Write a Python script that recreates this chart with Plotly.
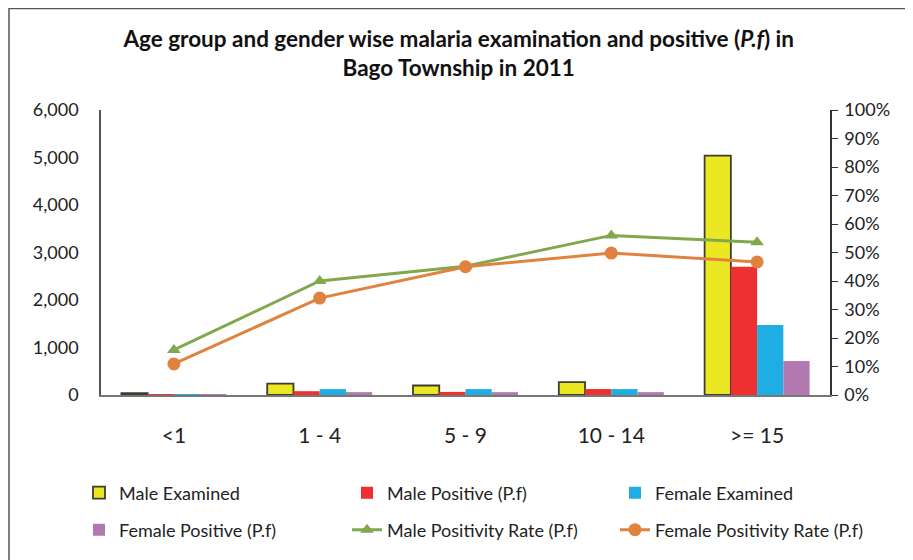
import plotly.graph_objects as go

categories = ["<1", "1 - 4", "5 - 9", "10 - 14", ">= 15"]
male_examined = [40, 240, 200, 270, 5040]
male_positive = [8, 80, 65, 125, 2700]
female_examined = [20, 125, 125, 125, 1475]
female_positive = [5, 60, 60, 60, 715]
male_rate = [15.8, 40.0, 45.2, 56.0, 53.6]
female_rate = [10.9, 34.0, 45.0, 49.8, 46.7]

FONT = "Lato"
# page is drawn with an 8px body margin; figure sized/offset to compensate
W, H = 905, 552
L, R, T, B = 93, 83, 102, 165
PW, PH = W - L - R, H - T - B

def px_x(x):
    return (x - L) / PW

def px_y(y):
    return (H - B - y) / PH

fig = go.Figure()
fig.add_trace(go.Bar(x=categories, y=male_examined, name="Male Examined", legend="legend",
                     marker=dict(color="#EBE823", line=dict(color="#3C3C30", width=1.8))))
fig.add_trace(go.Bar(x=categories, y=male_positive, name="Male Positive (P.f)", legend="legend",
                     marker=dict(color="#EE3030", line=dict(width=0))))
fig.add_trace(go.Bar(x=categories, y=female_examined, name="Female Examined", legend="legend",
                     marker=dict(color="#1FAEE3", line=dict(width=0))))
fig.add_trace(go.Bar(x=categories, y=female_positive, name="Female Positive (P.f)", legend="legend2",
                     marker=dict(color="#B278B0", line=dict(width=0))))
fig.add_trace(go.Scatter(x=categories, y=male_rate, name="Male Positivity Rate (P.f)",
                         yaxis="y2", mode="lines+markers", legend="legend2",
                         line=dict(color="#82A84E", width=3),
                         marker=dict(symbol="triangle-up", size=12, color="#82A84E")))
fig.add_trace(go.Scatter(x=categories, y=female_rate, name="Female Positivity Rate (P.f)",
                         yaxis="y2", mode="lines+markers", legend="legend2",
                         line=dict(color="#E0833F", width=3),
                         marker=dict(symbol="circle", size=13, color="#E0833F")))

legend_common = dict(orientation="h", xanchor="left", yanchor="middle",
                     entrywidth=223, entrywidthmode="pixels",
                     font=dict(family=FONT, size=18, color="#222222"),
                     bgcolor="rgba(0,0,0,0)")

fig.update_layout(
    width=W, height=H,
    margin=dict(l=L, r=R, t=T, b=B, autoexpand=False),
    paper_bgcolor="white", plot_bgcolor="white",
    font=dict(family=FONT, size=16, color="#222222"),
    title=dict(text="<b>Age group and gender wise malaria examination and positive (<i>P.f</i>) in<br>Bago Township in 2011</b>",
               x=0.498, xanchor="center", y=1 - 39 / H, yanchor="middle",
               font=dict(family=FONT, size=22.5, color="#111111")),
    barmode="group", bargap=0.28, bargroupgap=0,
    xaxis=dict(showline=True, linecolor="#777777", linewidth=1.5, ticks="",
               tickfont=dict(size=21), showgrid=False, ticklabelstandoff=21),
    yaxis=dict(range=[0, 6000], dtick=1000, tickformat=",", showline=True,
               linecolor="#555555", linewidth=1.5, ticks="",
               showgrid=False, zeroline=False, ticklabelstandoff=17,
               tickfont=dict(size=18)),
    yaxis2=dict(range=[0, 100], dtick=10, ticksuffix="%", overlaying="y", side="right",
                showline=True, linecolor="#333333", linewidth=1.5, ticks="outside",
                ticklen=6, tickcolor="#333333", showgrid=False, zeroline=False,
                ticklabelstandoff=3, tickfont=dict(size=18)),
    legend=dict(x=px_x(71), y=px_y(485), **legend_common),
    legend2=dict(x=px_x(71), y=px_y(522), **legend_common),
    shapes=[dict(type="rect", xref="paper", yref="paper",
                 x0=px_x(1), x1=1.3, y0=-1.0, y1=px_y(0.5),
                 line=dict(color="#555555", width=1.5))],
)

fig.write_html("out.html")
